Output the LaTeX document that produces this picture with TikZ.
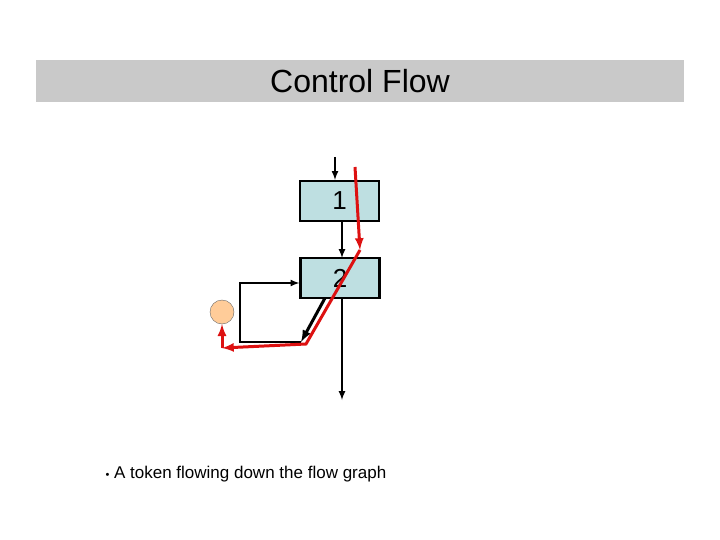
\documentclass[tikz,border=0pt]{standalone}
\usepackage{fontspec}
\setmainfont{Liberation Sans}
\definecolor{boxfill}{HTML}{BEDFE1}
\definecolor{tok}{HTML}{DD1111}
\begin{document}
\begin{tikzpicture}[x=1pt,y=-1pt,
  box/.style={draw=black,line width=2.2pt,fill=boxfill,minimum width=79pt,minimum height=40pt,inner sep=0pt,font=\fontsize{26}{26}\selectfont},
  blk/.style={draw=black,line width=2pt,-latex},
  red/.style={draw=tok,line width=3pt,-latex}]
\useasboundingbox (0,0) rectangle (720,540);
\fill[gray!42] (36,60) rectangle (684,102);
\node[font=\fontsize{32}{32}\selectfont] (title) at (360,81) {Control Flow};
\node[box] (b1) at (339.5,201) {1};
\node[box] (b2) at (340,278) {2};
\node[circle,draw=black!60,fill=orange!40,minimum size=24pt,inner sep=0pt] (c) at (222,312) {};
\coordinate (t0) at (335,157);
\coordinate (e) at (342,400);
\coordinate (d) at (301,342);
\coordinate (l) at (240,342);
\coordinate (s) at (325,298);
\draw[blk] (t0) -- (t0|-b1.north);
\draw[blk] (342,221) -- (342,258);
\draw[blk] (342,298) -- (e);
\draw[blk,line width=3pt] (s) -- (d);
\draw[blk] (d) -- (l) -- (240,283) -- (b2.west|-240,283);
\coordinate (r0) at (355,167);
\coordinate (r1) at (360,250);
\coordinate (r2) at (306,344);
\coordinate (r3) at (222,348);
\draw[red] (r0) -- (r1);
\draw[red] (r1) -- (r2) -- (r3);
\draw[red] (r3) -- (c.south);
\node[anchor=west,font=\fontsize{17}{17}\selectfont] (txt) at (102,474) {{\fontsize{11}{11}\selectfont•} A token flowing down the flow graph};
\end{tikzpicture}
\end{document}
